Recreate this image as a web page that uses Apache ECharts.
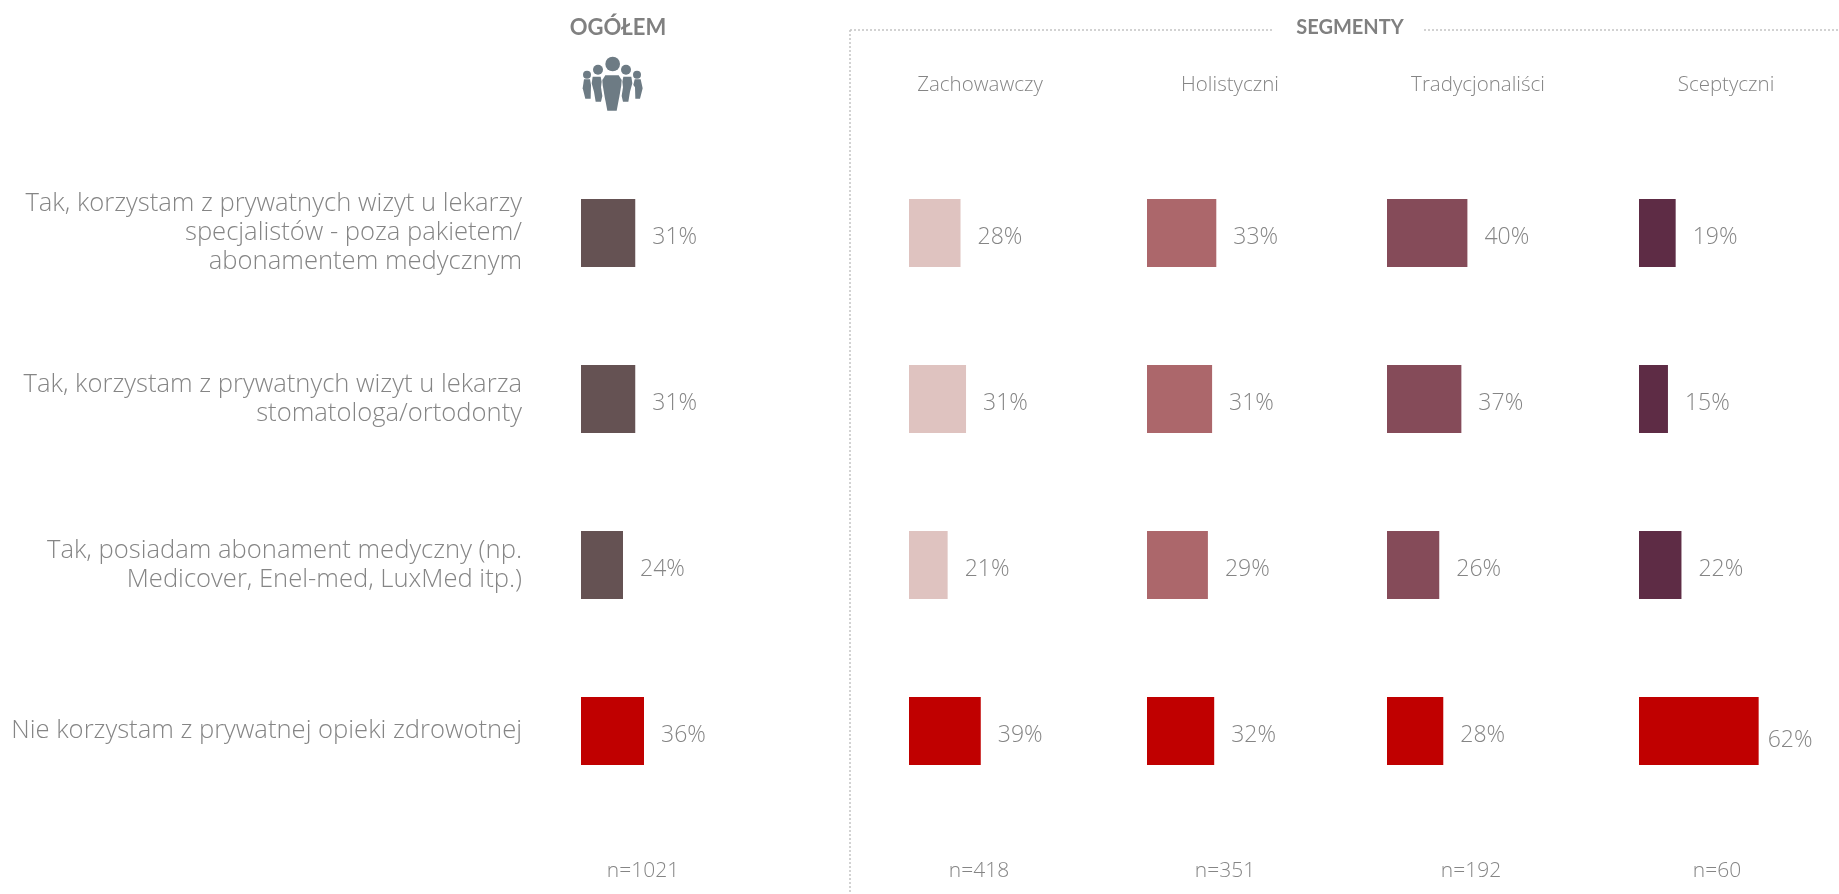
<!DOCTYPE html>
<html><head><meta charset="utf-8">
<style>html,body{margin:0;padding:0;background:#fff}#c{width:1839px;height:894px}</style>
<script src="https://cdn.jsdelivr.net/npm/echarts@6/dist/echarts.min.js"></script>
</head><body><div id="c"></div>
<script>
const categories = [
 "Tak, korzystam z prywatnych wizyt u lekarzy\nspecjalistów - poza pakietem/\nabonamentem medycznym",
 "Tak, korzystam z prywatnych wizyt u lekarza\nstomatologa/ortodonty",
 "Tak, posiadam abonament medyczny (np.\nMedicover, Enel-med, LuxMed itp.)",
 "Nie korzystam z prywatnej opieki zdrowotnej"
];
const columnNames = ["Ogółem","Zachowawczy","Holistyczni","Tradycjonaliści","Sceptyczni"];
const ogolem = [31,31,24,36];
const zachowawczy = [28,31,21,39];
const holistyczni = [33,31,29,32];
const tradycjonalisci = [40,37,26,28];
const sceptyczni = [19,15,22,62];
const sampleSizes = ["n=1021","n=418","n=351","n=192","n=60"];
const columnValues = [ogolem,zachowawczy,holistyczni,tradycjonalisci,sceptyczni];

const FONT = 'Open Sans', HEADFONT = 'Lato', GREY = '#858585';
const layout = [
 {left:581, width:175, color:'#655253', head:null, nx:643, gap:17},
 {left:909, width:184, color:'#dfc3c0', head:980,  nx:979, gap:17},
 {left:1147,width:210, color:'#ac676b', head:1230, nx:1225,gap:17},
 {left:1387,width:201, color:'#854b59', head:1478, nx:1471,gap:17},
 {left:1639,width:193, color:'#5e2c45', head:1726, nx:1717,gap:17}
];
const RED = '#c00000';
const grids=[],xAxes=[],yAxes=[],series=[];
layout.forEach((l,i)=>{
  grids.push({left:l.left,width:l.width,top:150,height:664,containLabel:false});
  xAxes.push({gridIndex:i,type:'value',min:0,max:100,show:false});
  yAxes.push({gridIndex:i,type:'category',inverse:true,data:categories,
    axisLine:{show:false},axisTick:{show:false},splitLine:{show:false},
    axisLabel:{show:i===0,margin:59,align:'right',color:GREY,fontFamily:FONT,fontSize:25.6,lineHeight:29,fontWeight:300,padding:[0,0,4,0]}});
  series.push({type:'bar',name:columnNames[i],xAxisIndex:i,yAxisIndex:i,barWidth:68,silent:true,
    data:columnValues[i].map((v,j)=>{
      const item={value:v,itemStyle:{color:j===3?RED:l.color}};
      if(v===62) item.label={distance:9,offset:[0,9]};
      return item;
    }),
    label:{show:true,position:'right',distance:l.gap,offset:[0,4],formatter:'{c}%',color:GREY,fontFamily:FONT,fontSize:23,fontWeight:300}});
});

const txt=(x,y,t,size,weight,color,family)=>({type:'text',x,y,silent:true,
  style:{text:t,fontFamily:family||FONT,fontSize:size,fontWeight:weight||300,fill:color||GREY,align:'center',verticalAlign:'middle'}});
const dotted=(x1,y1,x2,y2)=>({type:'line',silent:true,shape:{x1,y1,x2,y2},style:{stroke:'#c4c4c4',lineWidth:1.5,lineDash:[2,2]}});
const ICON='#6d7b84';
const people=[
 [278,192,22],[234,209,15],[318,209,15],[201,224,12],[351,224,12]
].map(c=>({type:'circle',silent:true,shape:{cx:c[0],cy:c[1],r:c[2]},style:{fill:ICON}}));
const bodies=[
 [[256,226],[296,226],[305,240],[304,255],[298,290],[290,332],[262,332],[254,290],[248,255],[247,240]],
 [[218,230],[242,230],[245,245],[243,262],[247,288],[243,305],[227,305],[222,275],[215,250]],
 [[310,230],[334,230],[337,250],[330,275],[325,305],[309,305],[305,288],[309,262],[307,245]],
 [[192,238],[210,238],[213,255],[212,296],[196,296],[188,265]],
 [[344,238],[362,238],[368,265],[360,296],[346,296],[345,262],[340,255]]
].map(p=>({type:'polygon',silent:true,shape:{points:p},style:{fill:ICON}}));

const graphic=[
 txt(618,28,'OGÓŁEM',22,700,'#808080',HEADFONT),
 txt(1350,28,'SEGMENTY',20,700,'#808080',HEADFONT),
 dotted(850,30,1272,30),dotted(1424,30,1839,30),dotted(850,30,850,894),
 {type:'group',x:520,y:0,scaleX:1/3,scaleY:1/3,silent:true,children:people.concat(bodies)}
];
layout.forEach((l,i)=>{
  if(l.head) graphic.push(txt(l.head,85,columnNames[i],20.5));
  graphic.push(txt(l.nx,871,sampleSizes[i],21));
});

echarts.init(document.getElementById('c'),null,{renderer:'canvas'}).setOption({
  animation:false,backgroundColor:'#fff',grid:grids,xAxis:xAxes,yAxis:yAxes,series,graphic
});
</script></body></html>
